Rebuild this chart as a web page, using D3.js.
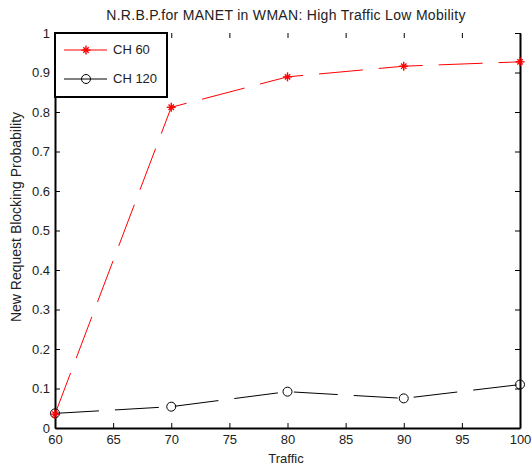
<!DOCTYPE html>
<html>
<head>
<meta charset="utf-8">
<script src="https://cdn.jsdelivr.net/npm/d3@7"></script>
<style>
  body { margin: 0; background: #fff; }
  text { font-family: "Liberation Sans", Arial, sans-serif; fill: #222; }
</style>
</head>
<body>
<div id="chart"></div>
<script>
// data
const traffic = [60, 70, 80, 90, 100];
const ch60 = [0.035, 0.812, 0.889, 0.916, 0.927];
const ch120 = [0.037, 0.054, 0.092, 0.075, 0.11];
const xTicks = [60, 65, 70, 75, 80, 85, 90, 95, 100];
const yTicks = [0, 0.1, 0.2, 0.3, 0.4, 0.5, 0.6, 0.7, 0.8, 0.9, 1];

const width = 532, height = 468;
const plotLeft = 55, plotRight = 520, plotTop = 33, plotBottom = 428;

const svg = d3.select('#chart').append('svg')
  .attr('width', width).attr('height', height);

const x = d3.scaleLinear().domain([60, 100]).range([plotLeft, plotRight]);
const y = d3.scaleLinear().domain([0, 1]).range([plotBottom, plotTop]);

// axes
const fmt = d => d3.format('')(d);
const xAxis = svg.append('g').attr('transform', 'translate(0,' + plotBottom + ')')
  .call(d3.axisBottom(x).tickValues(xTicks).tickSizeInner(-5).tickSizeOuter(0).tickPadding(7).tickFormat(fmt));
const yAxis = svg.append('g').attr('transform', 'translate(' + plotLeft + ',0)')
  .call(d3.axisLeft(y).tickValues(yTicks).tickSizeInner(-5).tickSizeOuter(0).tickPadding(5).tickFormat(fmt));
const xTop = svg.append('g').attr('transform', 'translate(0,' + plotTop + ')')
  .call(d3.axisTop(x).tickValues(xTicks).tickSizeInner(-5).tickSizeOuter(0).tickFormat(''));
const yRight = svg.append('g').attr('transform', 'translate(' + plotRight + ',0)')
  .call(d3.axisRight(y).tickValues(yTicks).tickSizeInner(-5).tickSizeOuter(0).tickFormat(''));

[xAxis, yAxis, yRight].forEach(g => {
  g.select('.domain').attr('stroke', '#000').attr('stroke-width', 2);
  g.selectAll('.tick line').attr('stroke', '#000');
  g.selectAll('.tick text').style('font-size', '13px').attr('fill', '#222')
    .style('font-family', '"Liberation Sans", Arial, sans-serif');
});
xTop.select('.domain').remove();
xTop.selectAll('.tick line').attr('stroke', '#000');

// title and labels
svg.append('text').attr('x', 286).attr('y', 20)
  .attr('text-anchor', 'middle').style('font-size', '14px').style('letter-spacing', '0.3px')
  .text('N.R.B.P.for MANET in WMAN: High Traffic Low Mobility');
svg.append('text').attr('x', 286).attr('y', 463)
  .attr('text-anchor', 'middle').style('font-size', '13px').text('Traffic');
svg.append('text').attr('transform', 'translate(21,217) rotate(-90)')
  .attr('text-anchor', 'middle').style('font-size', '14px')
  .text('New Request Blocking Probability');

const line = d3.line().x((d, i) => x(traffic[i])).y(d => y(d));

// CH 120 line
svg.append('path').datum(ch120).attr('d', line)
  .attr('fill', 'none').attr('stroke', '#000').attr('stroke-width', 1)
  .attr('stroke-dasharray', '44,16');
// CH 60 line
svg.append('path').datum(ch60).attr('d', line)
  .attr('fill', 'none').attr('stroke', '#f00').attr('stroke-width', 1)
  .attr('stroke-dasharray', '44,16');

function star(g, cx, cy, r) {
  const s = g.append('g').attr('stroke', '#f00').attr('stroke-width', 1.4);
  s.append('line').attr('x1', cx - r).attr('x2', cx + r).attr('y1', cy).attr('y2', cy);
  s.append('line').attr('x1', cx).attr('x2', cx).attr('y1', cy - r).attr('y2', cy + r);
  const d = r * 0.6;
  s.append('line').attr('x1', cx - d).attr('x2', cx + d).attr('y1', cy - d).attr('y2', cy + d);
  s.append('line').attr('x1', cx - d).attr('x2', cx + d).attr('y1', cy + d).attr('y2', cy - d);
}

ch120.forEach((v, i) => {
  svg.append('circle').attr('cx', x(traffic[i])).attr('cy', y(v)).attr('r', 4.5)
    .attr('fill', 'none').attr('stroke', '#000').attr('stroke-width', 1);
});
ch60.forEach((v, i) => star(svg, x(traffic[i]), y(v), 4.5));

// legend
const lg = svg.append('g');
lg.append('rect').attr('x', plotLeft).attr('y', plotTop).attr('width', 112).attr('height', 64)
  .attr('fill', '#fff').attr('stroke', '#000').attr('stroke-width', 2);
lg.append('line').attr('x1', 64).attr('x2', 107).attr('y1', 50).attr('y2', 50)
  .attr('stroke', '#f00').attr('stroke-width', 1);
star(lg, 86, 50, 4.5);
lg.append('text').attr('x', 113).attr('y', 54).style('font-size', '13px').text('CH  60');
lg.append('line').attr('x1', 64).attr('x2', 107).attr('y1', 79).attr('y2', 79)
  .attr('stroke', '#000').attr('stroke-width', 1);
lg.append('circle').attr('cx', 86).attr('cy', 79).attr('r', 4.5)
  .attr('fill', 'none').attr('stroke', '#000');
lg.append('text').attr('x', 113).attr('y', 83).style('font-size', '13px').text('CH  120');
</script>
</body>
</html>
